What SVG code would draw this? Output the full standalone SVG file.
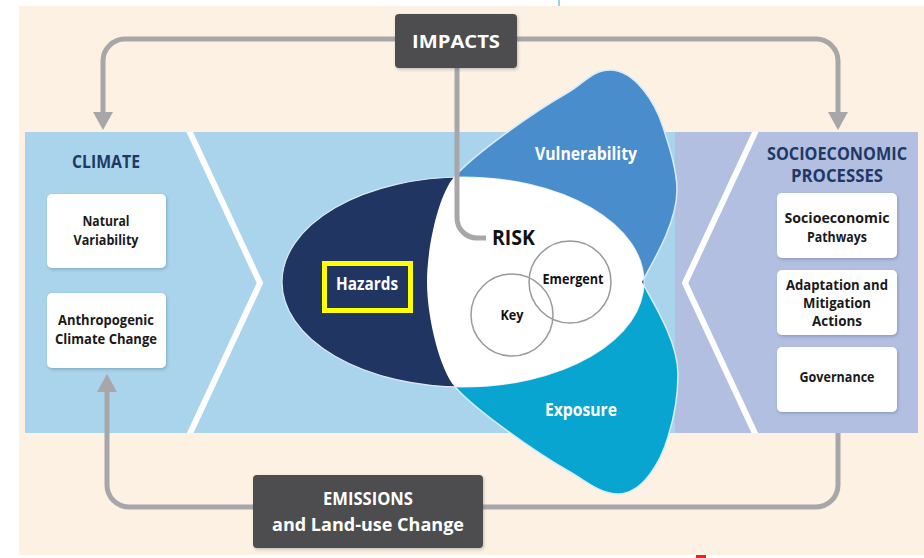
<svg xmlns="http://www.w3.org/2000/svg" width="924" height="558" viewBox="0 0 924 558">
<style>
.lbl{font-family:"Open Sans","Liberation Sans",sans-serif;font-weight:700;text-anchor:middle}
.box{fill:#ffffff;filter:url(#sh)}
.boxt{font-size:14px;fill:#1a1a1a}
.dark{fill:#4e4e50;filter:url(#sh)}
.wt{fill:#ffffff}
.head{font-size:17px;fill:#1f3864}
.conn{fill:none;stroke:#a7a7a9;stroke-width:5}
.chev{fill:none;stroke:#ffffff;stroke-width:6;stroke-linejoin:round}
.ring{fill:none;stroke:#9a9a9a;stroke-width:1.5}
</style>
<defs>
<filter id="sh" x="-10%" y="-10%" width="125%" height="130%">
<feDropShadow dx="1" dy="1.5" stdDeviation="1.5" flood-color="#2d4a66" flood-opacity="0.3"/>
</filter>
<marker id="ah" viewBox="0 0 18 20" refX="1" refY="10" markerWidth="18" markerHeight="20" markerUnits="userSpaceOnUse" orient="auto">
<path d="M0,0 L18,10 L0,20 Z" fill="#a7a7a9"/>
</marker>
<clipPath id="band"><rect x="25" y="132" width="893" height="301"/></clipPath>
<clipPath id="hclip"><ellipse cx="463" cy="282" rx="181" ry="105"/></clipPath>
<path id="vp" d="M427,282 C427,245 439.6,191.6 455,176 C476,153 532,113 567,93 C583,84 592,70 610,70 C635,70 655.5,103 663,127 C669,146 677,170 677,190 C677,222 654,260 642,282 L600,300 L440,300 Z"/>
<path id="ep" d="M427,282 C427,319 440.6,372.4 456,388 C477,411 535,452 570,472 C586,481 600,494 618,494 C643,494 661,461 668,437 C674,418 678,394 678,374 C678,342 654,304 642,282 L600,264 L440,264 Z"/>
</defs>

<rect x="0" y="0" width="924" height="558" fill="#ffffff"/>
<rect x="19" y="6" width="905" height="549" fill="#fdf1e3"/>
<rect x="558" y="0" width="2" height="6" fill="#9fd0ea"/>
<rect x="696" y="555" width="10" height="3" fill="#e8251f"/>

<g id="bands">
<rect x="25" y="132" width="650" height="301" fill="#a9d4ec"/>
<rect x="675" y="132" width="243" height="301" fill="#b3bfe1"/>
<g clip-path="url(#band)">
<polyline class="chev" points="186,124 260,283 186,442"/>
<polyline class="chev" points="759,124 685,283 759,442"/>
</g>
</g>

<g id="connectors">
<path class="conn" d="M395,39 H125 A22,22 0 0 0 103,61 V113" marker-end="url(#ah)"/>
<path class="conn" d="M517,39 H816 A22,22 0 0 1 838,61 V113" marker-end="url(#ah)"/>
<path class="conn" d="M253,507 H129 A22,22 0 0 1 107,485 V391" marker-end="url(#ah)"/>
<path class="conn" d="M483,507 H816 A22,22 0 0 0 838,485 V433"/>
</g>

<g id="vulnerability">
<use href="#vp" fill="#4a8dcc" stroke="#d8ecf7" stroke-width="1.5"/>
</g>
<g id="exposure">
<use href="#ep" fill="#07a5d0" stroke="#d8ecf7" stroke-width="1.5"/>
</g>
<g id="hazards">
<ellipse cx="463" cy="282" rx="181" ry="105" fill="#213562" stroke="#dcebf6" stroke-width="1.2"/>
</g>
<g id="risk">
<g clip-path="url(#hclip)" fill="#ffffff">
<use href="#vp"/>
<use href="#ep"/>
</g>
</g>
<g id="key"><circle class="ring" cx="512" cy="315" r="41"/></g>
<g id="emergent"><circle class="ring" cx="570" cy="282" r="41"/></g>

<g id="impact-line">
<path class="conn" d="M457,66 V218 A20,20 0 0 0 477,238 H486"/>
</g>

<text class="lbl" x="586" y="160" font-size="17" fill="#ffffff" textLength="102" lengthAdjust="spacingAndGlyphs">Vulnerability</text>
<text class="lbl" x="581" y="416" font-size="17" fill="#ffffff" textLength="72" lengthAdjust="spacingAndGlyphs">Exposure</text>
<text class="lbl" x="367" y="290" font-size="17" fill="#ffffff" textLength="62" lengthAdjust="spacingAndGlyphs">Hazards</text>
<rect x="324.5" y="263.5" width="86" height="47" fill="none" stroke="#ffff00" stroke-width="5"/>
<text class="lbl" x="513.5" y="245" font-size="21" fill="#111111" textLength="43" lengthAdjust="spacingAndGlyphs">RISK</text>
<text class="lbl" x="573" y="284" font-size="14" fill="#111111" textLength="61" lengthAdjust="spacingAndGlyphs">Emergent</text>
<text class="lbl" x="512" y="320" font-size="14" fill="#111111" textLength="23" lengthAdjust="spacingAndGlyphs">Key</text>

<g id="climate">
<text class="lbl head" x="106" y="168" textLength="68" lengthAdjust="spacingAndGlyphs">CLIMATE</text>
</g>
<g id="natural-variability">
<rect class="box" x="47" y="194" width="119" height="74" rx="5"/>
<text class="lbl boxt" x="106" y="226" textLength="47" lengthAdjust="spacingAndGlyphs">Natural</text>
<text class="lbl boxt" x="106" y="245" textLength="65" lengthAdjust="spacingAndGlyphs">Variability</text>
</g>
<g id="anthropogenic">
<rect class="box" x="47" y="293" width="119" height="75" rx="5"/>
<text class="lbl boxt" x="106" y="325" textLength="96" lengthAdjust="spacingAndGlyphs">Anthropogenic</text>
<text class="lbl boxt" x="106" y="344" textLength="102" lengthAdjust="spacingAndGlyphs">Climate Change</text>
</g>

<g id="socioeconomic">
<text class="lbl head" x="837" y="160" font-size="16" textLength="140" lengthAdjust="spacingAndGlyphs">SOCIOECONOMIC</text>
<text class="lbl head" x="837" y="182" font-size="16" textLength="92" lengthAdjust="spacingAndGlyphs">PROCESSES</text>
</g>
<g id="pathways">
<rect class="box" x="777" y="193" width="120" height="65" rx="5"/>
<text class="lbl boxt" x="837" y="223" textLength="105" lengthAdjust="spacingAndGlyphs">Socioeconomic</text>
<text class="lbl boxt" x="837" y="242" textLength="60" lengthAdjust="spacingAndGlyphs">Pathways</text>
</g>
<g id="adaptation">
<rect class="box" x="777" y="270" width="120" height="65" rx="5"/>
<text class="lbl boxt" x="837" y="290" textLength="102" lengthAdjust="spacingAndGlyphs">Adaptation and</text>
<text class="lbl boxt" x="837" y="308" textLength="68" lengthAdjust="spacingAndGlyphs">Mitigation</text>
<text class="lbl boxt" x="837" y="326" textLength="50" lengthAdjust="spacingAndGlyphs">Actions</text>
</g>
<g id="governance">
<rect class="box" x="777" y="347" width="120" height="65" rx="5"/>
<text class="lbl boxt" x="837" y="382" textLength="75" lengthAdjust="spacingAndGlyphs">Governance</text>
</g>

<g id="impacts">
<rect class="dark" x="395" y="14" width="122" height="54" rx="4"/>
<text class="lbl wt" x="456" y="48" font-size="18" textLength="88" lengthAdjust="spacingAndGlyphs">IMPACTS</text>
</g>
<g id="emissions">
<rect class="dark" x="253" y="475" width="230" height="73" rx="4"/>
<text class="lbl wt" x="368" y="505" font-size="18" textLength="90" lengthAdjust="spacingAndGlyphs">EMISSIONS</text>
<text class="lbl wt" x="368" y="531" font-size="17" textLength="192" lengthAdjust="spacingAndGlyphs">and Land-use Change</text>
</g>
</svg>
